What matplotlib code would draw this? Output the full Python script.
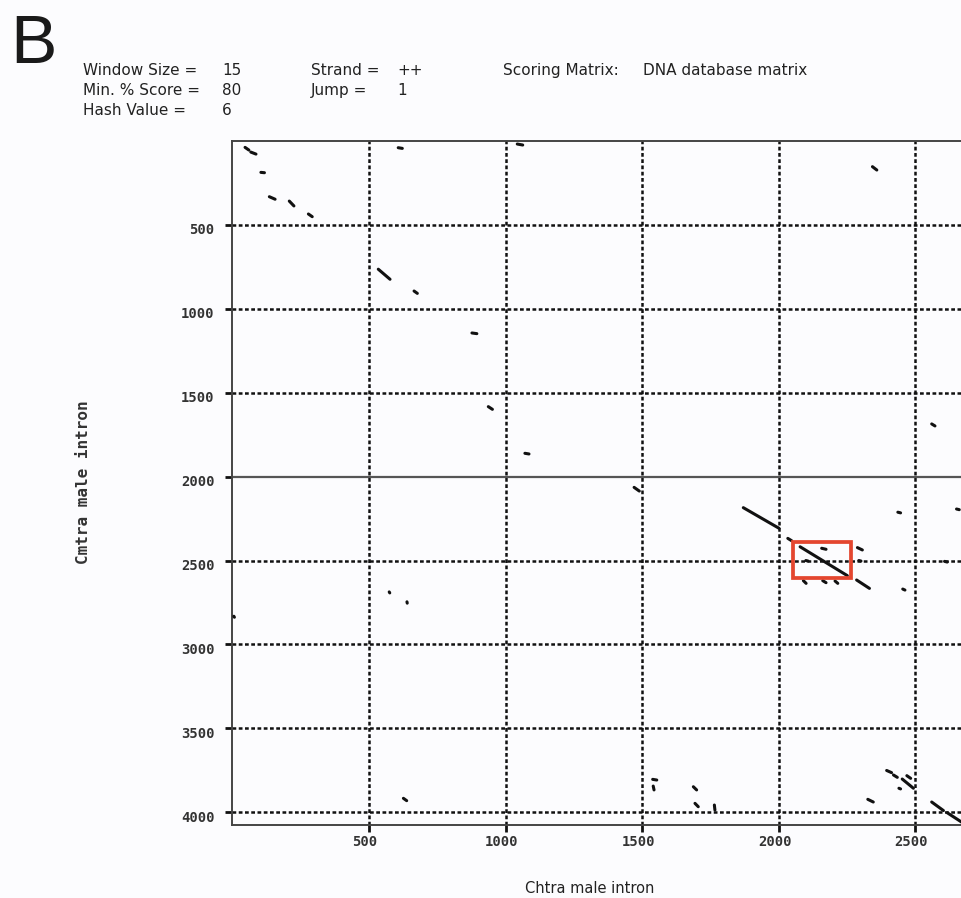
import matplotlib
matplotlib.use('Agg')
import matplotlib.pyplot as plt
import matplotlib.transforms as mtransforms
from matplotlib.patches import Rectangle

# ---------------- data ----------------
x_ticks = [500, 1000, 1500, 2000, 2500]
y_ticks = [500, 1000, 1500, 2000, 2500, 3000, 3500, 4000]
solid_row = 2000
x_limit = 2672
y_limit = 4076

# match segments (start x, start y, end x, end y) in sequence positions
seg_x0 = [46, 67, 104, 135, 208, 278, 607, 534, 665, 1043, 2344, 877, 937, 1071,
          1471, 2561, 1871, 2034, 2079, 2286, 2437, 2652, 2158, 2289, 2100, 2294,
          2091, 2162, 2207, 2455, 2608, 574, 639, 5, 626, 1539, 1541, 1688, 1694,
          1765, 2327, 2396, 2421, 2470, 2453, 2441, 2561, 2618]
seg_y0 = [38, 66, 187, 332, 358, 435, 40, 764, 894, 18, 153, 1144, 1583, 1861,
          2064, 1686, 2185, 2368, 2418, 2616, 2212, 2193, 2427, 2423, 2500, 2500,
          2620, 2620, 2622, 2670, 2505, 2687, 2746, 2832, 3917, 3804, 3844, 3848, 3947,
          3957, 3923, 3751, 3778, 3782, 3802, 3857, 3939, 4003]
seg_x1 = [60, 86, 117, 156, 225, 292, 622, 577, 677, 1063, 2360, 895, 952, 1086,
          1490, 2573, 2002, 2048, 2252, 2333, 2447, 2662, 2174, 2307, 2108, 2302,
          2101, 2174, 2217, 2463, 2618, 576, 640, 7, 638, 1554, 1544, 1700, 1706,
          1767, 2347, 2414, 2435, 2484, 2494, 2447, 2604, 2700]
seg_y1 = [54, 78, 189, 347, 387, 451, 44, 824, 908, 24, 173, 1148, 1599, 1865,
          2086, 1698, 2308, 2382, 2590, 2666, 2216, 2197, 2433, 2437, 2503, 2503,
          2636, 2632, 2636, 2676, 2509, 2693, 2754, 2838, 3931, 3808, 3867, 3867, 3967,
          3987, 3939, 3764, 3792, 3798, 3857, 3861, 3990, 4090]

box_x = [2053, 2266]
box_y = [2390, 2604]

param_labels = ["Window Size =", "Min. % Score =", "Hash Value ="]
param_values = ["15", "80", "6"]
param2_labels = ["Strand =", "Jump ="]
param2_values = ["++", "1"]
matrix_label = "Scoring Matrix:"
matrix_value = "DNA database matrix"
x_title = "Chtra male intron"
y_title = "Cmtra male intron"
panel_letter = "B"

# ---------------- figure ----------------
W, H = 962, 898
bg = '#fcfcfe'
fig = plt.figure(figsize=(W / 100, H / 100), dpi=100, facecolor=bg)
left_px, right_px, top_px, bot_px = 232.5, 962, 141, 825
ax = fig.add_axes([left_px / W, 1 - bot_px / H, (right_px - left_px) / W,
                   (bot_px - top_px) / H])
ax.set_facecolor(bg)
ax.set_xlim(0, x_limit)
ax.set_ylim(y_limit, 0)

# grid
grid_kw = dict(color='#111111', lw=1.8, linestyle=(0, (1.5, 1.0)),
               dash_capstyle='butt', zorder=1)
for xv in x_ticks:
    ax.axvline(xv, **grid_kw)
for yv in y_ticks:
    if yv == solid_row:
        ax.axhline(yv, color='#555555', lw=1.6, zorder=1)
    else:
        ax.axhline(yv, **grid_kw)

# match segments
for x0, y0, x1, y1 in zip(seg_x0, seg_y0, seg_x1, seg_y1):
    ax.plot([x0, x1], [y0, y1], color='#111111', lw=2.2,
            solid_capstyle='round', zorder=3)

# highlight box
ax.add_patch(Rectangle((box_x[0], box_y[0]), box_x[1] - box_x[0],
                       box_y[1] - box_y[0], fill=False,
                       edgecolor='#e4462f', lw=2.7, zorder=4))

# spines & ticks
for s in ['left', 'bottom', 'top']:
    ax.spines[s].set_color('#444444')
    ax.spines[s].set_linewidth(1.4)
ax.spines['right'].set_visible(False)
ax.set_xticks(x_ticks)
ax.set_yticks(y_ticks)
ax.set_xticklabels([str(v) for v in x_ticks], family='DejaVu Sans Mono',
                   fontsize=10, color='#333333', fontweight='bold')
ax.set_yticklabels([str(v) for v in y_ticks], family='DejaVu Sans Mono',
                   fontsize=10, color='#333333', fontweight='bold')
ax.tick_params(axis='x', direction='out', length=5, width=2.0,
               color='#111111', pad=2.5)
ax.tick_params(axis='y', direction='out', length=5, width=2.0,
               color='#111111', pad=8)
ax.tick_params(top=False, right=False)
off_y = mtransforms.ScaledTranslation(0, -4 / 100, fig.dpi_scale_trans)
for lab in ax.get_yticklabels():
    lab.set_transform(lab.get_transform() + off_y)
off_x = mtransforms.ScaledTranslation(-4 / 100, 0, fig.dpi_scale_trans)
for lab in ax.get_xticklabels():
    lab.set_transform(lab.get_transform() + off_x)

# axis titles
fig.text(590 / W, 1 - 893 / H, x_title, ha='center', va='baseline',
         fontsize=10.5, family='DejaVu Sans', color='#222222')
fig.text(84 / W, 1 - 482 / H, y_title, ha='center', va='center',
         rotation=90, fontsize=11.5, family='DejaVu Sans Mono',
         color='#333333', fontweight='bold')

# header
fig.text(10 / W, 1 - 63 / H, panel_letter, ha='left', va='baseline',
         fontsize=50, family='Liberation Sans', color='#1a1a1a')
hdr_kw = dict(ha='left', va='baseline', fontsize=11, family='DejaVu Sans',
              color='#222222')
baselines = [75, 95, 115]
for i, (lab, val) in enumerate(zip(param_labels, param_values)):
    fig.text(83 / W, 1 - baselines[i] / H, lab, **hdr_kw)
    fig.text(222 / W, 1 - baselines[i] / H, val, **hdr_kw)
for i, (lab, val) in enumerate(zip(param2_labels, param2_values)):
    fig.text(311 / W, 1 - baselines[i] / H, lab, **hdr_kw)
    fig.text(397 / W, 1 - baselines[i] / H, val, **hdr_kw)
fig.text(503 / W, 1 - baselines[0] / H, matrix_label, **hdr_kw)
fig.text(643 / W, 1 - baselines[0] / H, matrix_value, **hdr_kw)

fig.savefig('out.png', dpi=100, facecolor=bg)
